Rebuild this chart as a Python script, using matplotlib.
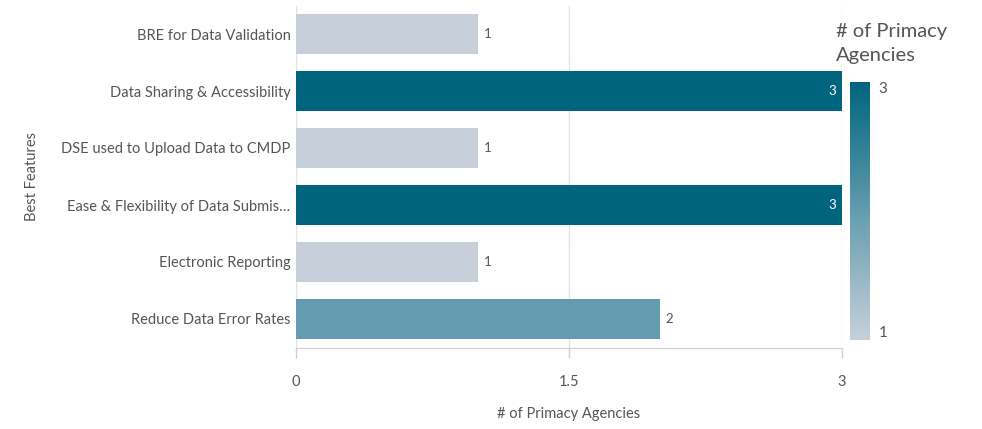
import matplotlib
matplotlib.use("Agg")
import matplotlib.pyplot as plt
from matplotlib.colors import LinearSegmentedColormap, Normalize
import matplotlib.cm as cm

plt.rcParams['font.family'] = ['Lato', 'DejaVu Sans']

categories = ["BRE for Data Validation", "Data Sharing & Accessibility",
              "DSE used to Upload Data to CMDP", "Ease & Flexibility of Data Submis\u2026",
              "Electronic Reporting", "Reduce Data Error Rates"]
values = [1, 3, 1, 3, 1, 2]
x_ticks = [0, 1.5, 3]
x_tick_labels = ["0", "1.5", "3"]

cmap = LinearSegmentedColormap.from_list("c", ["#C7D0DA", "#629CAE", "#00647E"])
norm = Normalize(vmin=1, vmax=3)

fig = plt.figure(figsize=(9.82, 4.29), dpi=100)
ax = fig.add_axes([296/982, 1-347.5/429, 546/982, 342/429])

ypos = list(range(len(categories)))
colors = [cmap(norm(v)) for v in values]
ax.barh(ypos, values, height=0.69, color=colors, zorder=3)
ax.set_ylim(len(categories)-0.5, -0.5)
ax.set_xlim(0, 3)

for y, v in zip(ypos, values):
    if v >= 3:
        ax.text(v - 0.03, y, str(v), ha='right', va='center', color='white', fontsize=9.5, zorder=4)
    else:
        ax.text(v + 0.03, y, str(v), ha='left', va='center', color='#555555', fontsize=9.5, zorder=4)

ax.set_yticks(ypos)
ax.set_yticklabels(categories, fontsize=10.5, color='#555555')
ax.tick_params(axis='y', length=0, pad=4)
ax.set_xticks(x_ticks)
ax.set_xticklabels(x_tick_labels, fontsize=10.5, color='#555555')
ax.tick_params(axis='x', length=7, color='#D0D0D0', pad=13, width=1)
for s in ['top', 'right', 'left']:
    ax.spines[s].set_visible(False)
ax.spines['bottom'].set_color('#D0D0D0')
ax.grid(axis='x', color='#E3E3E3', linewidth=1, zorder=0)
ax.set_axisbelow(True)
ax.set_xlabel("# of Primacy Agencies", fontsize=10.5, color='#555555', labelpad=13)
ax.set_ylabel("Best Features", fontsize=10.5, color='#555555', labelpad=16)

cax = fig.add_axes([850/982, 1-340/429, 20/982, 258/429])
cb = fig.colorbar(cm.ScalarMappable(norm=norm, cmap=cmap), cax=cax)
cb.set_ticks([1, 3])
cb.set_ticklabels(["1", "3"])
cb.outline.set_visible(False)
cax.tick_params(length=0, labelsize=11, labelcolor='#555555', pad=6)
cax.yaxis.get_ticklabels()[1].set_va('top')
cax.yaxis.get_ticklabels()[0].set_va('bottom')
fig.text(836/982, 1-44/429, "# of Primacy\nAgencies", fontsize=14.5, color='#555555',
         ha='left', va='center', linespacing=1.5)

fig.savefig("out.png", dpi=100)
